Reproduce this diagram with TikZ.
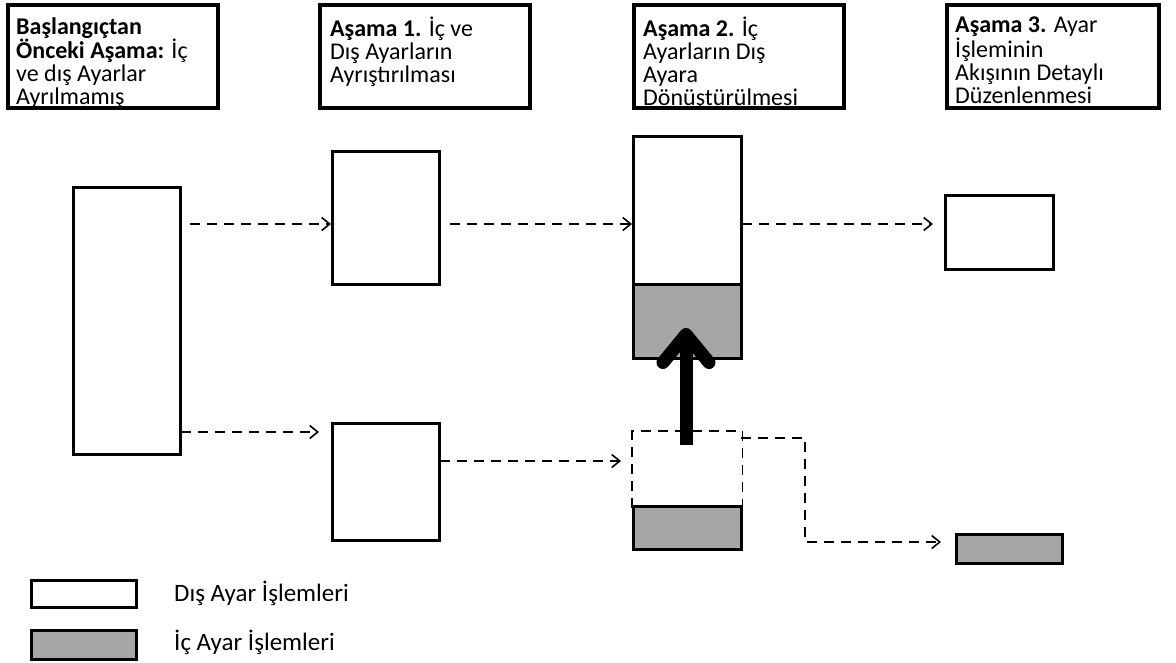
\documentclass[tikz,border=0pt]{standalone}
\usepackage{fontspec}
\setmainfont{Carlito}
\usetikzlibrary{arrows.meta}
\definecolor{sgray}{HTML}{A6A6A6}
\begin{document}
\begin{tikzpicture}[x=1pt,y=-1pt,
  hbox/.style={draw,line width=3.5pt,minimum width=210pt,minimum height=103pt,inner sep=0pt,anchor=north west},
  htext/.style={anchor=north west,inner sep=0pt,align=left,font=\fontsize{24}{23}\selectfont},
  wbox/.style={draw,line width=2.5pt,fill=white,inner sep=0pt,anchor=north west},
  gbox/.style={wbox,fill=sgray},
  dline/.style={line width=1.5pt,dash pattern=on 10pt off 7pt},
  darr/.style={dline,-{Straight Barb[length=8pt,width=13pt,line width=1.6pt]}},
  bigarr/.style={line width=13pt,-{Straight Barb[length=28pt,width=46pt,round]}},
  ltext/.style={anchor=west,inner sep=0pt,font=\fontsize{25}{26}\selectfont}
]
\useasboundingbox (0,0) rectangle (1176,662);
% header boxes
\node[hbox] (h1) at (6,3) {};
\node[hbox] (h2) at (318,3) {};
\node[hbox] (h3) at (632,3) {};
\node[hbox,minimum width=212pt] (h4) at (945,3) {};
\node[htext] (t1) at (16,17) {\textbf{Başlangıçtan}\\\textbf{Önceki Aşama:} İç\\ve dış Ayarlar\\Ayrılmamış};
\node[htext] (t2) at (330,17) {\textbf{Aşama 1.} İç ve\\Dış Ayarların\\Ayrıştırılması};
\node[htext] (t3) at (643,17) {\textbf{Aşama 2.} İç\\Ayarların Dış\\Ayara\\Dönüştürülmesi};
\node[htext] (t4) at (955,17) {\textbf{Aşama 3.} Ayar\\İşleminin\\Akışının Detaylı\\Düzenlenmesi};
% diagram boxes
\node[wbox,minimum width=107pt,minimum height=267pt] (b0) at (72,186) {};
\node[wbox,minimum width=107pt,minimum height=133pt] (b1) at (331,150) {};
\node[wbox,minimum width=107pt,minimum height=117pt] (b2) at (331,422) {};
\node[wbox,minimum width=108pt,minimum height=148pt] (b3w) at (632,135) {};
\node[gbox,minimum width=108pt,minimum height=74pt] (b3g) at (632,283) {};
\node[wbox,minimum width=108pt,minimum height=74pt] (b4) at (944,194) {};
\node[wbox,draw=none,minimum width=108pt,minimum height=74pt] (b5w) at (632,431) {};
\draw[dline] (b5w.south west) -- (b5w.north west) -- (b5w.north east) -- (b5w.south east);
\node[gbox,minimum width=108pt,minimum height=43pt] (b5g) at (632,505) {};
\node[gbox,minimum width=106pt,minimum height=29pt] (b6) at (955,533) {};
% legend
\node[wbox,minimum width=105pt,minimum height=27pt] (l1) at (30,579) {};
\node[gbox,minimum width=105pt,minimum height=29pt] (l2) at (30,629) {};
\node[ltext] (lt1) at (174,593) {Dış Ayar İşlemleri};
\node[ltext] (lt2) at (174,642) {İç Ayar İşlemleri};
% connectors
\coordinate (s1) at (190,224);
\draw[darr] (s1) -- (s1 -| b1.west);
\coordinate (s2) at (181,432);
\coordinate (e2) at (319,432);
\draw[darr] (s2) -- (e2);
\coordinate (s3) at (450,224);
\draw[darr] (s3) -- (s3 -| b3w.west);
\coordinate (s4) at (440,461);
\coordinate (e4) at (621,461);
\draw[darr] (s4) -- (e4);
\coordinate (s5) at (742,224);
\coordinate (e5) at (933,224);
\draw[darr] (s5) -- (e5);
\coordinate (s6) at (741,438);
\coordinate (c6a) at (805,438);
\coordinate (c6b) at (805,542);
\coordinate (e6) at (941,542);
\draw[darr] (s6) -- (c6a) -- (c6b) -- (e6);
\coordinate (s7) at (686,445);
\coordinate (e7) at (686,328);
\draw[bigarr] (s7) -- (e7);
\end{tikzpicture}
\end{document}
